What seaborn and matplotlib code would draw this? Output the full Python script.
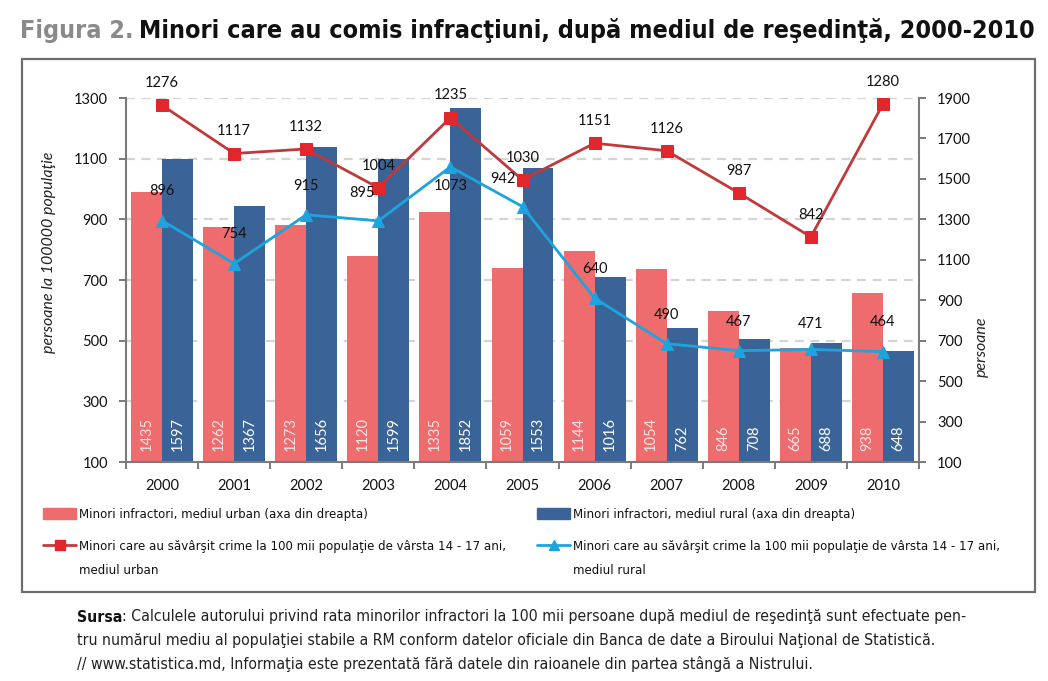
import matplotlib
matplotlib.use('Agg')
import matplotlib.pyplot as plt
from matplotlib.patches import Patch, Rectangle
from matplotlib.lines import Line2D
import seaborn as sns
import numpy as np
import pandas as pd

years = ['2000', '2001', '2002', '2003', '2004', '2005', '2006', '2007', '2008', '2009', '2010']
urban_bars = [1435, 1262, 1273, 1120, 1335, 1059, 1144, 1054, 846, 665, 938]
rural_bars = [1597, 1367, 1656, 1599, 1852, 1553, 1016, 762, 708, 688, 648]
urban_rate = [1276, 1117, 1132, 1004, 1235, 1030, 1151, 1126, 987, 842, 1280]
rural_rate = [896, 754, 915, 895, 1073, 942, 640, 490, 467, 471, 464]

left_ticks = list(range(100, 1301, 200))
right_ticks = list(range(100, 1901, 200))

RED_BAR = '#EE6B6E'
BLUE_BAR = '#3A6497'
RED_LINE = '#C0393C'
RED_MARK = '#E2262B'
BLUE_LINE = '#1DA4DE'
COND = dict(family='DejaVu Sans', stretch='condensed')

sns.set_theme(style='white')
plt.rcParams['font.family'] = ['Lato', 'DejaVu Sans']

W, H = 1048, 681
fig = plt.figure(figsize=(W / 100, H / 100), dpi=100)
fx = lambda px: px / W
fy = lambda py: 1 - py / H

# frame around chart + legend
fig.add_artist(Rectangle((fx(22), fy(592)), fx(1035) - fx(22), fy(59) - fy(592),
                         transform=fig.transFigure, fill=False, ec='#6e6e6e', lw=1.6))

ax = fig.add_axes([fx(126), fy(462), fx(919) - fx(126), fy(98) - fy(462)])
lx = ax.twinx()

bars = pd.DataFrame({'an': years * 2,
                     'valoare': urban_bars + rural_bars,
                     'mediu': ['urban'] * len(years) + ['rural'] * len(years)})
sns.barplot(data=bars, x='an', y='valoare', hue='mediu', palette=[RED_BAR, BLUE_BAR],
            width=0.86, saturation=1, linewidth=0, ax=ax, legend=False)

rates = pd.DataFrame({'an': years, 'urban': urban_rate, 'rural': rural_rate})
sns.lineplot(data=rates, x='an', y='urban', ax=lx, color=RED_LINE, lw=2, marker='s',
             markersize=8.5, markerfacecolor=RED_MARK, markeredgecolor=RED_MARK, sort=False)
sns.lineplot(data=rates, x='an', y='rural', ax=lx, color=BLUE_LINE, lw=2, marker='^',
             markersize=8.5, markerfacecolor=BLUE_LINE, markeredgecolor=BLUE_LINE, sort=False)

# value labels in bars
for cont, vals, col in zip(ax.containers, [urban_bars, rural_bars], ['#fde6e6', 'white']):
    for rect, v in zip(cont, vals):
        ax.annotate(str(v), (rect.get_x() + rect.get_width() / 2, 100), xytext=(0, 8),
                    textcoords='offset points', rotation=90, ha='center', va='bottom',
                    color=col, fontsize=10.5)

# labels over the lines
nudge = {('r', 3): (-12, 20), ('r', 4): (0, -14), ('r', 5): (-14, 20), ('r', 9): (0, 18)}
for i, v in enumerate(urban_rate):
    lx.annotate(str(v), (i, v), xytext=(0, 16), textcoords='offset points',
                ha='center', va='center', fontsize=10.5, color='#111')
for i, v in enumerate(rural_rate):
    dx, dy = nudge.get(('r', i), (0, 21))
    lx.annotate(str(v), (i, v), xytext=(dx, dy), textcoords='offset points',
                ha='center', va='center', fontsize=10.5, color='#111')

ax.set_xlim(-0.5, len(years) - 0.5)
ax.set_ylim(100, 1900)
lx.set_ylim(100, 1300)
ax.set_yticks(right_ticks)
lx.set_yticks(left_ticks)
# grid follows the left axis, drawn behind bars
ax.yaxis.remove_overlapping_locs = False
ax.set_yticks([100 + (v - 100) * 1.5 for v in left_ticks[1:]], minor=True)
ax.set_axisbelow(True)
ax.grid(False)
lx.grid(False)
ax.yaxis.grid(True, which='minor', color='#d4d4d4', ls=(0, (4, 3)), lw=1.6)

ax.yaxis.tick_right()
ax.yaxis.set_label_position('right')
lx.yaxis.tick_left()
lx.yaxis.set_label_position('left')

ax.set_xticks(np.arange(-0.5, len(years), 1), minor=True)
ax.tick_params(axis='x', which='major', length=0, labelsize=10.5, labelcolor='#111', pad=12)
ax.tick_params(axis='x', which='minor', bottom=True, length=5, width=1.4, color='#7a7a7a')
ax.tick_params(axis='y', which='major', right=True, left=False, length=5, width=1.4,
               color='#7a7a7a', labelsize=10.5, labelcolor='#111', pad=8)
ax.tick_params(axis='y', which='minor', length=0)
lx.tick_params(axis='y', left=True, right=False, length=5, width=1.4,
               color='#7a7a7a', labelsize=10.5, labelcolor='#111', pad=8)

for s in ['left', 'right', 'bottom']:
    ax.spines[s].set_visible(True)
    ax.spines[s].set_color('#7a7a7a')
    ax.spines[s].set_linewidth(1.5)
ax.spines['top'].set_visible(False)
for s in lx.spines.values():
    s.set_visible(False)

ax.set_xlabel('')
lx.set_xlabel('')
ax.set_ylabel('persoane', style='italic', fontsize=11.5, color='#222')
lx.set_ylabel('persoane la 100000 populaţie', style='italic', fontsize=11.5, color='#222')
ax.yaxis.set_label_coords(1.0706, 0.316)
lx.yaxis.set_label_coords(-0.088, 0.577)

renderer = fig.canvas.get_renderer()
width = lambda t: t.get_window_extent(renderer).width

# title, two parts, fitted to the frame width
def title(size):
    t1 = fig.text(fx(20), fy(38), 'Figura 2.', color='#8a8a8a', fontsize=size,
                  fontweight='bold', va='baseline', **COND)
    w1 = width(t1)
    t2 = fig.text(fx(20 + w1 + size * 0.3), fy(38),
                  'Minori care au comis infracţiuni, după mediul de reşedinţă, 2000-2010',
                  color='#111', fontsize=size, fontweight='bold', va='baseline', **COND)
    return t1, t2, w1 + size * 0.3 + width(t2)

t1, t2, tw = title(20)
t1.remove(); t2.remove()
title(20 * 1015 / tw)

# legends
lab_bar_u = 'Minori infractori, mediul urban (axa din dreapta)'
lab_bar_r = 'Minori infractori, mediul rural (axa din dreapta)'
lab_line = 'Minori care au săvârşit crime la 100 mii populaţie de vârsta 14 - 17 ani,'

def legends(fs):
    fpx = fs * 100 / 72
    out = []
    for x0, bcol, lcol, mcol, mk, lab in [(43, RED_BAR, RED_LINE, RED_MARK, 's', lab_bar_u),
                                           (537, BLUE_BAR, BLUE_LINE, BLUE_LINE, '^', lab_bar_r)]:
        hs = [Patch(facecolor=bcol, edgecolor=bcol),
              Line2D([], [], color=lcol, lw=2, marker=mk, markersize=7,
                     markerfacecolor=mcol, markeredgecolor=mcol)]
        leg = fig.legend(hs, [lab, lab_line], loc='upper left', bbox_to_anchor=(fx(x0), fy(508)),
                         frameon=False, borderpad=0, borderaxespad=0,
                         handlelength=33 / fpx, handleheight=12 / fpx, handletextpad=0.25,
                         labelspacing=(35 - 1.2 * fpx) / fpx, prop=dict(size=fs, **COND))
        for t in leg.get_texts():
            t.set_color('#111')
        out.append(leg)
    return out

legs = legends(9)
fig.canvas.draw()
lw = width(legs[0].get_texts()[1])
for l in legs:
    l.remove()
fs = 9 * 423 / lw
legs = legends(fs)
fig.canvas.draw()
for l, sub in zip(legs, ['mediul urban', 'mediul rural']):
    x0 = l.get_texts()[1].get_window_extent(renderer).x0
    fig.text(x0 / W, fy(571), sub, fontsize=fs, color='#111', va='center', **COND)

# source note
src1 = ': Calculele autorului privind rata minorilor infractori la 100 mii persoane după mediul de reşedinţă sunt efectuate pen-'
src2 = 'tru numărul mediu al populaţiei stabile a RM conform datelor oficiale din Banca de date a Biroului Naţional de Statistică.'
src3 = '// www.statistica.md, Informaţia este prezentată fără datele din raioanele din partea stângă a Nistrului.'

def source(size):
    a = fig.text(fx(77), fy(617), 'Sursa', fontsize=size, fontweight='bold', color='#111',
                 va='center', **COND)
    wa = width(a)
    b = fig.text(fx(77 + wa), fy(617), src1, fontsize=size, color='#222', va='center', **COND)
    return a, b, wa + width(b)

a, b, sw = source(10)
a.remove(); b.remove()
ss = 10 * 893 / sw
source(ss)
fig.text(fx(77), fy(641), src2, fontsize=ss, color='#222', va='center', **COND)
fig.text(fx(77), fy(664), src3, fontsize=ss, color='#222', va='center', **COND)

fig.savefig('out.png', dpi=100)
